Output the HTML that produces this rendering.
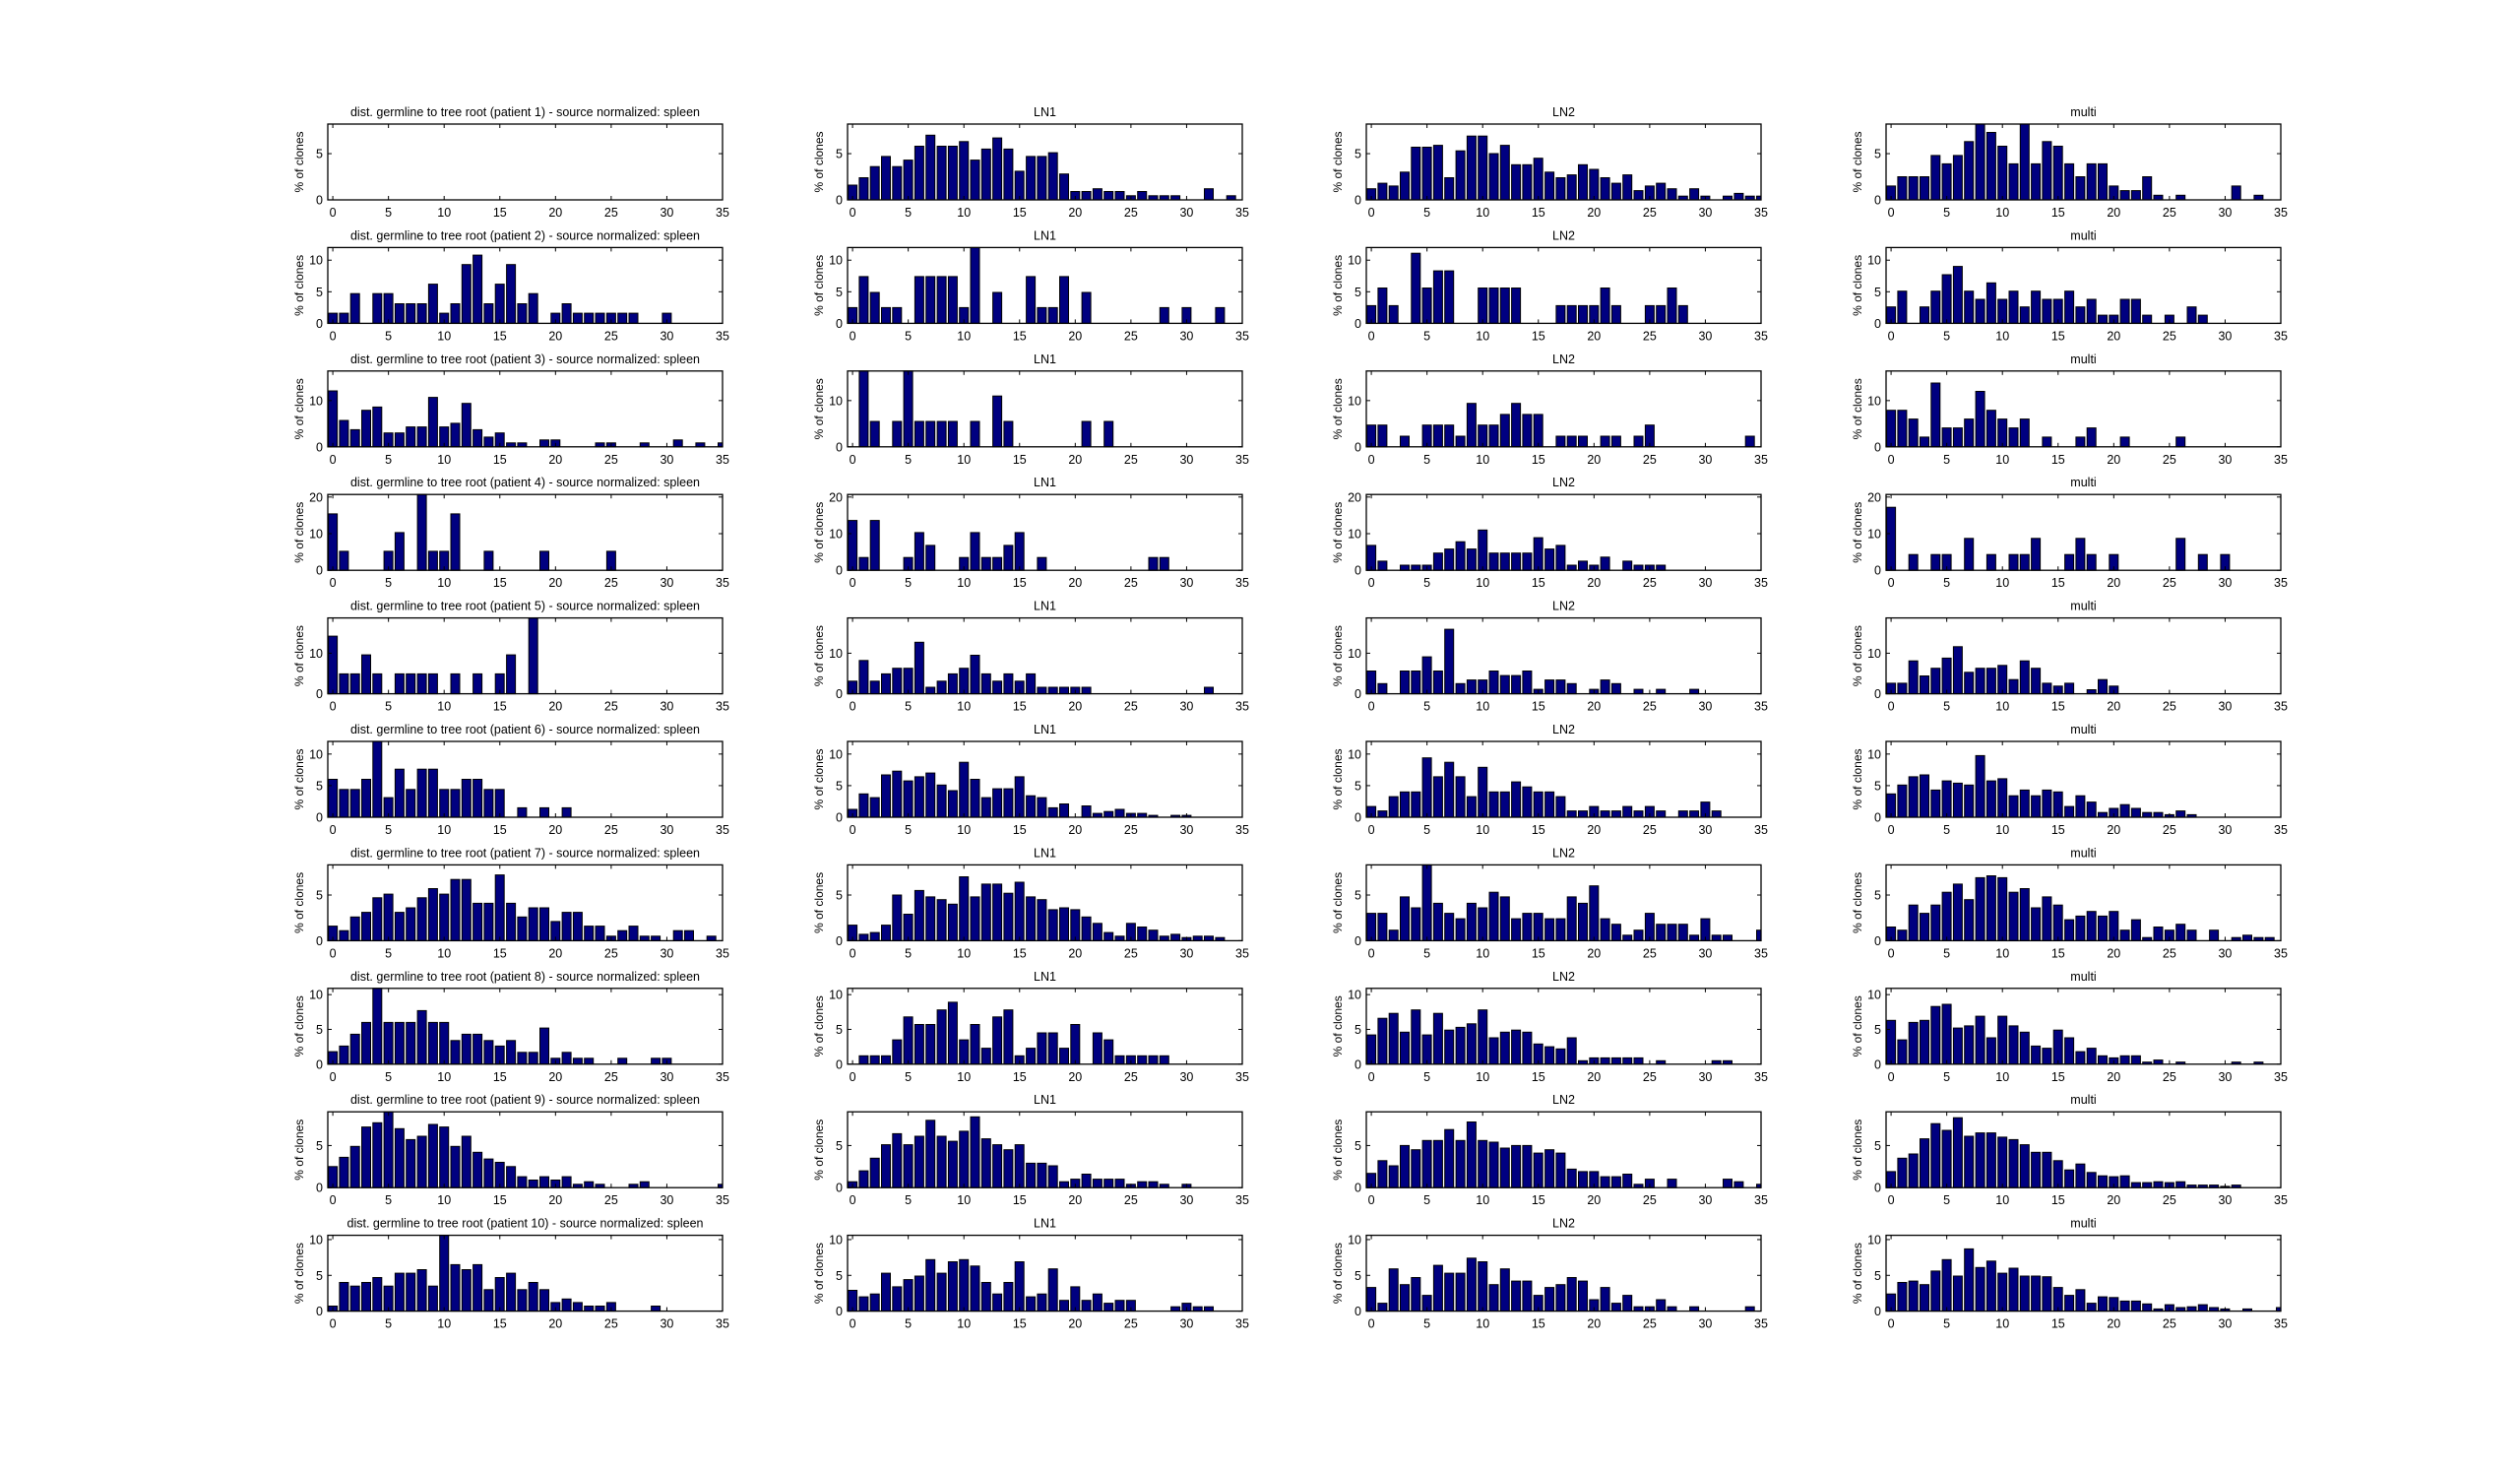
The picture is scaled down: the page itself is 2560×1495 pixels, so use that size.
<!DOCTYPE html>
<html><head><meta charset="utf-8">
<style>
html,body{margin:0;padding:0;background:#fff;}
svg{display:block;}
text{font-family:"Liberation Sans",sans-serif;fill:#000;}
</style></head>
<body>
<svg id="s" xmlns="http://www.w3.org/2000/svg" width="2560" height="1495" viewBox="0 0 2560 1495"></svg>
<script>
(function(){
function L(arr){var a=new Array(36).fill(0);for(var i=0;i<arr.length;i++)a[i]=arr[i];return a;}
var ymax=[8.2,12,16.4,20.7,18.7,12,8.3,10.9,9,10.6];
var yt=[[0,5],[0,5,10],[0,10],[0,10,20],[0,10],[0,5,10],[0,5],[0,5,10],[0,5],[0,5,10]];
var D=[
[L([]),
 L([1.6,2.4,3.6,4.7,3.6,4.3,5.8,7.0,5.8,5.8,6.3,4.3,5.5,6.7,5.5,3.1,4.7,4.7,5.1,2.8,0.9,0.9,1.2,0.9,0.9,0.45,0.9,0.45,0.45,0.45,0,0,1.2,0,0.45,0]),
 L([1.2,1.8,1.5,3.0,5.7,5.7,5.9,2.4,5.3,6.9,6.9,5.0,5.9,3.8,3.8,4.5,3.0,2.4,2.7,3.8,3.3,2.4,1.8,2.7,1.0,1.5,1.8,1.2,0.4,1.2,0.4,0,0.4,0.7,0.4,0.4]),
 L([1.5,2.5,2.5,2.5,4.8,3.9,4.8,6.3,8.2,7.3,5.8,3.9,8.2,3.9,6.3,5.8,3.9,2.5,3.9,3.9,1.5,1.0,1.0,2.5,0.5,0,0.5,0,0,0,0,1.5,0,0.5])],
[L([1.6,1.6,4.7,0,4.7,4.7,3.1,3.1,3.1,6.2,1.6,3.1,9.3,10.8,3.1,6.2,9.3,3.1,4.7,0,1.6,3.1,1.6,1.6,1.6,1.6,1.6,1.6,0,0,1.6]),
 L([2.5,7.4,4.9,2.5,2.5,0,7.4,7.4,7.4,7.4,2.5,12,0,4.9,0,0,7.4,2.5,2.5,7.4,0,4.9,0,0,0,0,0,0,2.5,0,2.5,0,0,2.5]),
 L([2.8,5.6,2.8,0,11.1,5.6,8.3,8.3,0,0,5.6,5.6,5.6,5.6,0,0,0,2.8,2.8,2.8,2.8,5.6,2.8,0,0,2.8,2.8,5.6,2.8]),
 L([2.6,5.1,0,2.6,5.1,7.7,9.0,5.1,3.8,6.4,3.8,5.1,2.6,5.1,3.8,3.8,5.1,2.6,3.8,1.3,1.3,3.8,3.8,1.3,0,1.3,0,2.6,1.3])],
[L([12.1,5.7,3.7,7.9,8.6,3.0,3.0,4.3,4.3,10.7,4.3,5.1,9.4,3.7,2.1,3.0,0.85,0.85,0,1.5,1.5,0,0,0,0.85,0.85,0,0,0.85,0,0,1.5,0,0.85,0,0.85]),
 L([0,16.4,5.5,0,5.5,16.4,5.5,5.5,5.5,5.5,0,5.5,0,11,5.5,0,0,0,0,0,0,5.5,0,5.5]),
 L([4.7,4.7,0,2.3,0,4.7,4.7,4.7,2.3,9.4,4.7,4.7,7.0,9.4,7.0,7.0,0,2.3,2.3,2.3,0,2.3,2.3,0,2.3,4.7,0,0,0,0,0,0,0,0,2.3]),
 L([7.9,7.9,6.0,2.1,13.8,4.1,4.1,6.0,12,7.9,6.0,4.1,6.0,0,2.1,0,0,2.1,4.1,0,0,2.1,0,0,0,0,2.1])],
[L([15.4,5.2,0,0,0,5.2,10.3,0,20.7,5.2,5.2,15.4,0,0,5.2,0,0,0,0,5.2,0,0,0,0,0,5.2]),
 L([13.6,3.5,13.6,0,0,3.5,10.3,6.8,0,0,3.5,10.3,3.5,3.5,6.8,10.3,0,3.5,0,0,0,0,0,0,0,0,0,3.5,3.5]),
 L([6.8,2.5,0,1.4,1.4,1.4,4.7,5.8,7.8,5.8,11,4.7,4.7,4.7,4.7,8.9,5.8,6.8,1.4,2.5,1.4,3.6,0,2.5,1.4,1.4,1.4]),
 L([17.2,0,4.3,0,4.3,4.3,0,8.7,0,4.3,0,4.3,4.3,8.7,0,0,4.3,8.7,4.3,0,4.3,0,0,0,0,0,8.7,0,4.3,0,4.3])],
[L([14.2,4.9,4.9,9.6,4.9,0,4.9,4.9,4.9,4.9,0,4.9,0,4.9,0,4.9,9.6,0,18.7]),
 L([3.1,8.2,3.1,4.9,6.3,6.3,12.7,1.6,3.1,4.9,6.3,9.5,4.9,3.1,4.9,3.1,4.9,1.6,1.6,1.6,1.6,1.6,0,0,0,0,0,0,0,0,0,0,1.6]),
 L([5.6,2.5,0,5.6,5.6,9.1,5.6,15.9,2.5,3.4,3.4,5.6,4.5,4.5,5.6,1.1,3.4,3.4,2.5,0,1.1,3.4,2.5,0,1.1,0,1.1,0,0,1.1]),
 L([2.6,2.6,8.1,4.4,6.3,8.8,11.6,5.3,6.3,6.3,7.0,3.5,8.1,6.3,2.6,1.9,2.6,0,1.0,3.5,1.9])],
[L([6.0,4.4,4.4,6.0,12,3.1,7.6,4.4,7.6,7.6,4.4,4.4,6.0,6.0,4.4,4.4,0,1.5,0,1.5,0,1.5]),
 L([1.25,3.7,3.1,6.7,7.3,5.75,6.4,7.0,5.1,4.2,8.7,6.0,3.1,4.5,4.5,6.4,3.4,3.1,1.5,2.1,0,1.8,0.6,0.9,1.25,0.6,0.6,0.3,0,0.3,0.3]),
 L([1.7,1.0,3.25,4.0,4.0,9.4,6.4,8.7,6.4,3.25,7.9,4.0,4.0,5.6,4.8,4.0,4.0,3.25,1.0,1.0,1.7,1.0,1.0,1.7,1.0,1.7,1.0,0,1.0,1.0,2.4,1.0]),
 L([3.7,5.1,6.4,6.7,4.3,5.75,5.4,5.1,9.75,5.75,6.1,3.4,4.3,3.4,4.3,4.0,1.7,3.4,2.4,0.75,1.4,2.0,1.4,0.75,0.75,0.4,1.0,0.4])],
[L([1.6,1.1,2.6,3.1,4.7,5.1,3.1,3.6,4.7,5.7,5.1,6.7,6.7,4.1,4.1,7.2,4.1,2.6,3.6,3.6,2.1,3.1,3.1,1.6,1.6,0.5,1.1,1.6,0.5,0.5,0,1.1,1.1,0,0.5]),
 L([1.7,0.7,0.9,1.7,5.0,2.9,5.5,4.8,4.5,4.0,7.0,4.8,6.2,6.2,5.2,6.4,4.8,4.5,3.4,3.6,3.4,2.6,1.9,0.9,0.5,1.9,1.5,1.15,0.5,0.7,0.35,0.5,0.5,0.35]),
 L([3.0,3.0,1.15,4.8,3.6,8.3,4.1,3.0,2.4,4.1,3.6,5.3,4.8,2.4,3.0,3.0,2.4,2.4,4.8,4.1,6.0,2.4,1.8,0.6,1.15,3.0,1.8,1.8,1.8,0.6,2.4,0.6,0.6,0,0,1.15]),
 L([1.5,1.15,3.9,3.0,3.9,5.3,6.2,4.5,6.9,7.1,6.9,5.3,5.7,3.6,4.8,3.9,2.3,2.7,3.2,2.7,3.2,1.15,2.3,0.35,1.5,1.15,1.8,1.15,0,1.15,0,0.35,0.6,0.35,0.35])],
[L([1.8,2.6,4.3,6.0,10.9,6.0,6.0,6.0,7.7,6.0,6.0,3.4,4.3,4.3,3.4,2.6,3.4,1.7,1.7,5.2,0.85,1.7,0.85,0.85,0,0,0.85,0,0,0.85,0.85]),
 L([0,1.2,1.2,1.2,3.5,6.8,5.7,5.7,7.8,8.9,3.5,5.7,2.3,6.8,7.8,1.2,2.3,4.5,4.5,2.3,5.7,0,4.5,3.5,1.2,1.2,1.2,1.2,1.2]),
 L([4.2,6.6,7.3,4.6,7.8,4.2,7.3,4.9,5.3,5.8,7.8,3.8,4.6,4.9,4.6,2.9,2.5,2.2,3.8,0.5,0.9,0.9,0.9,0.9,0.9,0,0.5,0,0,0,0,0.5,0.5]),
 L([6.3,3.5,6.0,6.3,8.3,8.6,5.2,5.5,6.9,3.8,6.9,5.5,4.6,2.6,2.3,4.9,3.8,1.8,2.3,1.2,0.9,1.2,1.2,0.3,0.6,0,0.3,0,0,0,0,0.3,0,0.3])],
[L([2.5,3.6,4.9,7.2,7.7,9,7.0,5.7,6.1,7.5,7.2,4.9,6.1,4.2,3.4,3.0,2.5,1.3,0.9,1.3,0.9,1.3,0.4,0.7,0.4,0,0,0.4,0.7,0,0,0,0,0,0,0.4]),
 L([0.7,2.0,3.5,5.1,6.4,5.1,6.1,8.0,6.1,5.5,6.7,8.4,5.8,5.1,4.5,5.1,2.9,2.9,2.6,0.7,1.0,1.6,1.0,1.0,1.0,0.4,0.7,0.7,0.4,0,0.4]),
 L([1.7,3.2,2.6,5.0,4.5,5.6,5.6,6.9,5.6,7.8,5.6,5.4,4.7,5.0,5.0,4.1,4.5,4.1,2.2,1.9,1.9,1.3,1.3,1.6,0.4,1.0,0,1.0,0,0,0,0,1.0,0.7,0,0.4]),
 L([1.9,3.5,4.0,5.8,7.6,6.8,8.3,6.1,6.5,6.5,6.0,5.7,5.1,4.2,4.2,3.2,2.1,2.8,1.8,1.4,1.3,1.4,0.6,0.6,0.7,0.6,0.7,0.3,0.3,0.3,0.15,0.3])],
[L([0.7,4.0,3.5,4.0,4.7,3.5,5.3,5.3,5.8,3.5,10.6,6.5,5.8,6.5,3.0,4.7,5.3,3.0,4.0,3.0,1.2,1.7,1.2,0.7,0.7,1.2,0,0,0,0.7]),
 L([2.9,2.0,2.4,5.3,3.4,4.4,4.9,7.2,5.3,6.9,7.2,6.3,4.0,2.4,4.0,6.9,2.0,2.4,5.9,1.5,3.4,1.5,2.4,1.1,1.5,1.5,0,0,0,0.6,1.1,0.6,0.6]),
 L([3.3,1.1,5.9,3.7,4.7,2.2,6.4,5.3,5.3,7.4,6.9,3.7,5.9,4.2,4.2,2.2,3.3,3.7,4.7,4.2,1.6,3.3,1.1,2.2,0.6,0.6,1.6,0.6,0,0.6,0,0,0,0,0.6]),
 L([2.4,4.0,4.2,3.7,5.6,7.2,4.9,8.7,6.1,7.0,5.3,6.0,4.9,4.9,4.8,3.3,2.2,3.0,1.1,2.0,1.9,1.4,1.4,1.0,0.3,0.9,0.5,0.6,0.9,0.5,0.3,0,0.3,0,0,0.5])]
];
var lefts=[333,861,1388,1916], W=401, H=77, x0=-0.45, x1=35;
var out=[];
for(var r=0;r<10;r++){
  var ay=126+125.4*r, by=ay+H;
  for(var c=0;c<4;c++){
    var L0=lefts[c], sx=W/(x1-x0), sy=H/ymax[r];
    var X=function(v){return L0+(v-x0)*sx;};
    var d=D[r][c];
    for(var i=0;i<36;i++){ if(d[i]>0){
      var v=Math.min(d[i],ymax[r]);
      var h=v*sy, xa=Math.max(X(i-0.4),L0), xb=Math.min(X(i+0.4),L0+W);
      out.push('<rect x="'+xa.toFixed(1)+'" y="'+(by-h).toFixed(1)+'" width="'+(xb-xa).toFixed(1)+'" height="'+h.toFixed(1)+'" fill="#000080" stroke="#000" stroke-width="1"/>');
    }}
    out.push('<rect x="'+L0+'" y="'+ay+'" width="'+W+'" height="'+H+'" fill="none" stroke="#000" stroke-width="1.3"/>');
    for(var t=0;t<=35;t+=5){var tx=X(t);
      out.push('<line x1="'+tx+'" y1="'+by+'" x2="'+tx+'" y2="'+(by-4)+'" stroke="#000"/><line x1="'+tx+'" y1="'+ay+'" x2="'+tx+'" y2="'+(ay+4)+'" stroke="#000"/>');
      out.push('<text x="'+tx+'" y="'+(by+17)+'" font-size="12.5" text-anchor="middle">'+t+'</text>');}
    for(var k=0;k<yt[r].length;k++){var yv=yt[r][k], ty=by-yv*sy;
      out.push('<line x1="'+L0+'" y1="'+ty+'" x2="'+(L0+4)+'" y2="'+ty+'" stroke="#000"/><line x1="'+(L0+W)+'" y1="'+ty+'" x2="'+(L0+W-4)+'" y2="'+ty+'" stroke="#000"/>');
      out.push('<text x="'+(L0-5)+'" y="'+(ty+4.5)+'" font-size="12.5" text-anchor="end">'+yv+'</text>');}
    var yl=L0-25, ym=ay+H/2;
    out.push('<text x="'+yl+'" y="'+ym+'" font-size="12" text-anchor="middle" transform="rotate(-90 '+yl+' '+ym+')">% of clones</text>');
    var ttl=c==0?'dist. germline to tree root (patient '+(r+1)+') - source normalized: spleen':['','LN1','LN2','multi'][c];
    out.push('<text x="'+(L0+W/2)+'" y="'+(ay-8)+'" font-size="12.5" text-anchor="middle">'+ttl+'</text>');
  }
}
document.getElementById('s').innerHTML=out.join('');
})();
</script>
</body></html>
